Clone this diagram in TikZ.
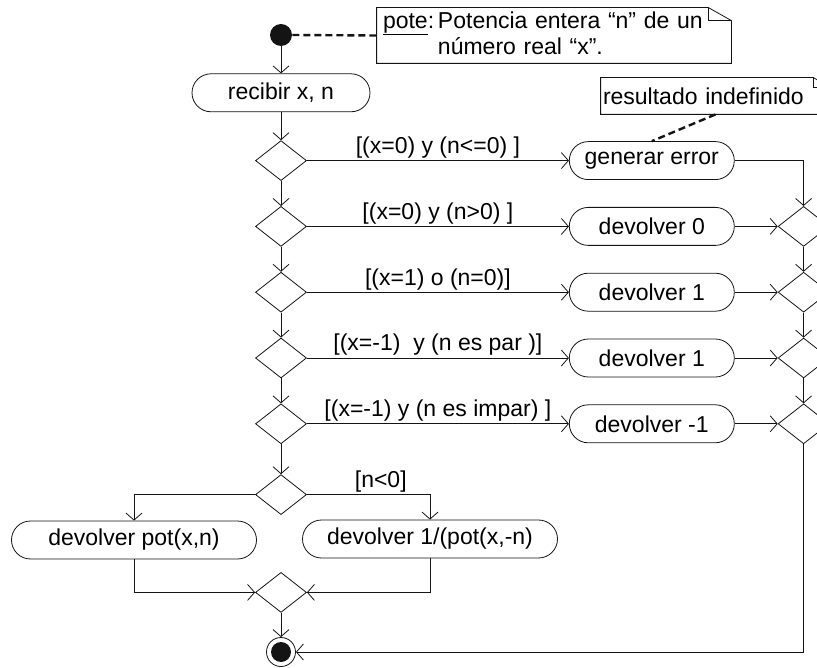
\documentclass[tikz,border=0pt]{standalone}
\usepackage{fontspec}
\setmainfont{Liberation Sans}
\usepackage{tikz}
\usetikzlibrary{shapes.geometric, arrows.meta, positioning, calc}
\definecolor{ink}{RGB}{20,20,20}

\begin{document}
\begin{tikzpicture}[
    x=1pt, y=-1pt,
    line width=0.8pt, draw=ink,
    font=\fontsize{23}{26}\selectfont,
    action/.style={rectangle, draw, rounded corners=19pt, minimum width=165pt, minimum height=38pt, fill=white},
    decision/.style={diamond, draw, minimum width=51pt, minimum height=40pt, inner sep=0pt},
    startnode/.style={circle, fill=ink, minimum size=22pt, inner sep=0pt},
    endnode/.style={circle, draw, minimum size=29pt, inner sep=0pt,
        path picture={\fill[ink] (path picture bounding box.center) circle (10pt);}},
    note/.style={align=left, inner xsep=6pt, inner ysep=0pt},
    guard/.style={above, inner sep=2pt},
    flow/.style={-{Straight Barb[length=7pt, width=16pt]}},
    link/.style={dash pattern=on 7pt off 4pt, line width=2.4pt}
]
\useasboundingbox (0,0) rectangle (817,668);
\clip (0,0) rectangle (817,668);

% start, input and the chain of tests
\node[startnode] (start) at (281,35) {};
\node[action, minimum width=178pt, below=27pt of start] (recv) {recibir x, n};
\node[decision, below=28pt of recv] (d1) {};
\node[decision, below=25pt of d1] (d2) {};
\node[decision, below=25pt of d2] (d3) {};
\node[decision, below=25pt of d3] (d4) {};
\node[decision, below=25pt of d4] (d5) {};
\node[decision, below=30pt of d5] (d6) {};

% special cases
\node[action, right=262pt of d1] (err) {generar error};
\node[action, right=262pt of d2] (r0) {devolver 0};
\node[action, right=262pt of d3] (r1) {devolver 1};
\node[action, right=262pt of d4] (r2) {devolver 1};
\node[action, right=262pt of d5] (r3) {devolver -1};

\node[decision, right=43pt of r0] (m1) {};
\node[decision, right=43pt of r1] (m2) {};
\node[decision, right=43pt of r2] (m3) {};
\node[decision, right=43pt of r3] (m4) {};

% general case
\node[action, minimum width=245pt] (pot) at (134,540) {devolver pot(x,n)};
\node[action, minimum width=255pt] (inv) at (430,539) {devolver 1/(pot(x,-n)};
\node[decision, below=57pt of d6] (jn) {};
\node[endnode] (fin) at (281,652) {};

% notes
\node[note, text width=342pt, minimum height=55pt] (pote) at (554,35.5)
    {\underline{pote}:\,Potencia entera “n” de un\\\phantom{pote:\,}número real “x”.};
\draw (pote.south west) -- (pote.north west) -- ($(pote.north east)+(-23,0)$)
    -- ($(pote.north east)+(0,13)$) -- (pote.south east) -- cycle;
\draw ($(pote.north east)+(-23,0)$) |- ($(pote.north east)+(0,13)$);

\node[note, inner xsep=2pt, text width=225pt, minimum height=36pt] (res) at (715.5,96) {resultado indefinido};
\draw (res.south west) -- (res.north west) -- ($(res.north east)+(-17,0)$)
    -- ($(res.north east)+(0,10)$) -- (res.south east) -- cycle;
\draw ($(res.north east)+(-17,0)$) |- ($(res.north east)+(0,10)$);

\draw[link] (start.east) -- (pote.west);
\draw[link] (res.south) -- (err.north);

% flows
\draw[flow] (start) -- (recv);
\draw[flow] (recv) -- (d1);
\draw[flow] (d1) -- (d2);
\draw[flow] (d2) -- (d3);
\draw[flow] (d3) -- (d4);
\draw[flow] (d4) -- (d5);
\draw[flow] (d5) -- (d6);

\draw[flow] (d1.east) -- node[guard] {[(x=0) y (n<=0) ]} (err.west);
\draw[flow] (d2.east) -- node[guard] {[(x=0) y (n>0) ]} (r0.west);
\draw[flow] (d3.east) -- node[guard] {[(x=1) o (n=0)]} (r1.west);
\draw[flow] (d4.east) -- node[guard] {[(x=-1)\ \ y (n es par )]} (r2.west);
\draw[flow] (d5.east) -- node[guard] {[(x=-1) y (n es impar) ]} (r3.west);

\draw[flow] (err.east) -| (m1.north);
\draw[flow] (r0.east) -- (m1.west);
\draw[flow] (r1.east) -- (m2.west);
\draw[flow] (r2.east) -- (m3.west);
\draw[flow] (r3.east) -- (m4.west);
\draw[flow] (m1.south) -- (m2.north);
\draw[flow] (m2.south) -- (m3.north);
\draw[flow] (m3.south) -- (m4.north);
\draw[flow] (m4.south) |- (fin.east);

\draw[flow] (d6.west) -| (pot.north);
\draw[flow] (d6.east) -| node[guard, pos=0.3] {[n<0]} (inv.north);
\draw[flow] (pot.south) |- (jn.west);
\draw[flow] (inv.south) |- (jn.east);
\draw[flow] (jn) -- (fin);

\end{tikzpicture}
\end{document}
